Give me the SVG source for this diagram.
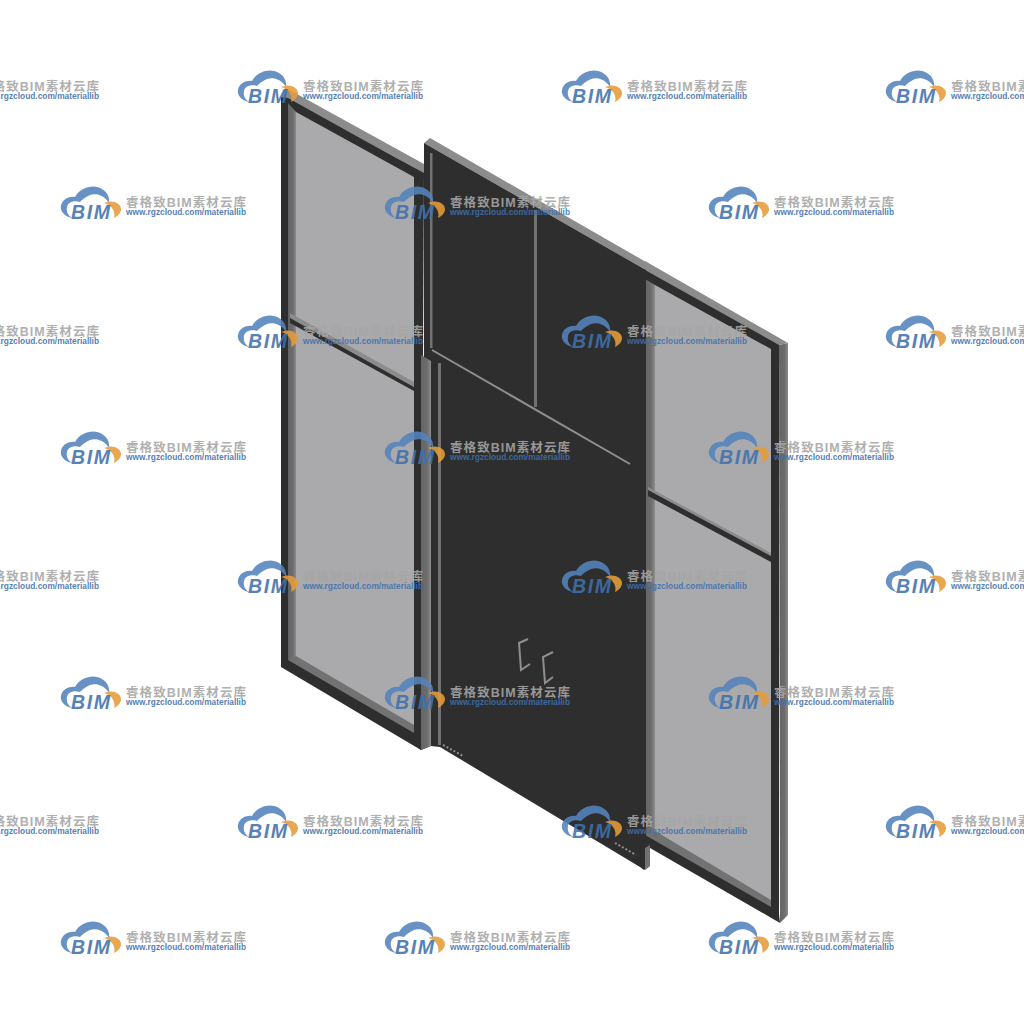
<svg xmlns="http://www.w3.org/2000/svg" width="1024" height="1024" viewBox="0 0 1024 1024">
<style>
.dk{fill:#2e2e2e}.gl{fill:#aaaaac}.md{fill:#727272}.lt{fill:#8c8c8c}
.ln{fill:none;stroke:#8f8f8f;stroke-width:2}
.wm{opacity:.88}
.cl{fill:#5484bd}.or{fill:#e69c3a}
.b{font:italic bold 19.5px "Liberation Sans",sans-serif;fill:#3f71ad}
.t{font:bold 12.5px "Liberation Sans","Noto Sans CJK SC",sans-serif;fill:#a6a6a6}
.u{font:bold 8.5px "Liberation Sans",sans-serif;fill:#3f71ad}
</style>
<defs>
<linearGradient id="side"><stop offset="0" stop-color="#656565"/><stop offset=".6" stop-color="#6c6c6c"/><stop offset="1" stop-color="#8c8c8c"/></linearGradient>
<path id="cloud" d="M11 32C2 30-1 24 0 20C1 13 9 10 14 11C18 3 29-1 36 1C44 3 49 9 48 17C43 9 35 7 29 9C24 11 21 14 19 16C13 14 7 16 6 21C5 26 7 29 11 32Z"/>
<path id="sw" d="M43 17C51 13 60 17 60 23C60 27 57 30 53 32C55 26 51 19 43 17Z"/>
</defs>
<g id="left-panel">
<polygon class="dk" points="281,97 424,172 421,750 281,667"/>
<polygon class="lt" points="281,97 286,88 424,164 424,173"/>
<polygon class="dk" points="281,97 288,98 421,172 421,183 288,108"/>
<polygon fill="url(#side)" points="288,103 296,112 296,659 288,660"/>
<polygon class="gl" points="296,112 414,177 414,726 296,659"/>
<polygon class="md" points="288,660 296,656 414,725 414,733"/>
<polygon class="lt" points="290,313 414,382 414,387 290,318"/>
<polygon class="dk" points="290,318 414,387 414,391 290,323"/>
</g>
<g id="right-panel">
<polygon class="dk" points="645,262 779,343 779,920 645,842"/>
<polygon class="lt" points="645,261 788,343 779,345 645,270"/>
<polygon fill="url(#side)" points="645,279 655,285 655,835 645,835"/>
<polygon class="gl" points="655,285 771,349 771,902 655,835"/>
<polygon class="md" points="645,835 655,831 771,900 771,907"/>
<polygon class="dk" points="650,848 780,923 779,914 650,840"/>
<polygon fill="url(#side)" points="779,345 788,343 788,915 780,923"/>
<polygon class="lt" points="648,487 771,553 771,556 648,490"/>
<polygon class="dk" points="648,490 771,556 771,562 648,496"/>
</g>
<g id="door">
<polygon class="lt" points="424,143 430,138 646,262 646,270"/>
<polygon class="dk" points="424,143 646,270 646,840 650,845 650,866 644,870 640,867 440,747 431,746 421,750 415,745 415,400 424,355"/>
<polygon class="md" points="645,848 650,845 650,866 645,870"/>
<rect class="md" x="430" y="153" width="2.5" height="195"/>
<rect class="md" x="534" y="210" width="3" height="197"/>
<polygon fill="url(#side)" points="421,355 431,361 431,746 421,750"/>
<rect class="md" x="438" y="363" width="3" height="382"/>
<line class="ln" x1="432" y1="350" x2="630" y2="464"/>
<polyline class="ln" points="528,639 519,643 521,670 530,664"/>
<polyline class="ln" points="553,652 543,657 545,683 553,677"/>
<line x1="443" y1="745" x2="463" y2="756" stroke="#8f8f8f" stroke-width="2" stroke-dasharray="2 2"/>
<line x1="615" y1="843" x2="636" y2="855" stroke="#8f8f8f" stroke-width="2" stroke-dasharray="2 2"/>
</g>
<g id="wm-a1" class="wm" transform="translate(-86 70)"><use href="#cloud" class="cl"/><use href="#sw" class="or"/><text class="b" x="10" y="33" textLength="39">BIM</text><text class="t" x="65" y="21" textLength="120">睿格致BIM素材云库</text><text class="u" x="65" y="29" textLength="120" lengthAdjust="spacingAndGlyphs">www.rgzcloud.com/materiallib</text></g>
<g id="wm-a2" class="wm" transform="translate(238 70)"><use href="#cloud" class="cl"/><use href="#sw" class="or"/><text class="b" x="10" y="33" textLength="39">BIM</text><text class="t" x="65" y="21" textLength="120">睿格致BIM素材云库</text><text class="u" x="65" y="29" textLength="120" lengthAdjust="spacingAndGlyphs">www.rgzcloud.com/materiallib</text></g>
<g id="wm-a3" class="wm" transform="translate(562 70)"><use href="#cloud" class="cl"/><use href="#sw" class="or"/><text class="b" x="10" y="33" textLength="39">BIM</text><text class="t" x="65" y="21" textLength="120">睿格致BIM素材云库</text><text class="u" x="65" y="29" textLength="120" lengthAdjust="spacingAndGlyphs">www.rgzcloud.com/materiallib</text></g>
<g id="wm-a4" class="wm" transform="translate(886 70)"><use href="#cloud" class="cl"/><use href="#sw" class="or"/><text class="b" x="10" y="33" textLength="39">BIM</text><text class="t" x="65" y="21" textLength="120">睿格致BIM素材云库</text><text class="u" x="65" y="29" textLength="120" lengthAdjust="spacingAndGlyphs">www.rgzcloud.com/materiallib</text></g>
<g id="wm-b1" class="wm" transform="translate(61 186)"><use href="#cloud" class="cl"/><use href="#sw" class="or"/><text class="b" x="10" y="33" textLength="39">BIM</text><text class="t" x="65" y="21" textLength="120">睿格致BIM素材云库</text><text class="u" x="65" y="29" textLength="120" lengthAdjust="spacingAndGlyphs">www.rgzcloud.com/materiallib</text></g>
<g id="wm-b2" class="wm" transform="translate(385 186)"><use href="#cloud" class="cl"/><use href="#sw" class="or"/><text class="b" x="10" y="33" textLength="39">BIM</text><text class="t" x="65" y="21" textLength="120">睿格致BIM素材云库</text><text class="u" x="65" y="29" textLength="120" lengthAdjust="spacingAndGlyphs">www.rgzcloud.com/materiallib</text></g>
<g id="wm-b3" class="wm" transform="translate(709 186)"><use href="#cloud" class="cl"/><use href="#sw" class="or"/><text class="b" x="10" y="33" textLength="39">BIM</text><text class="t" x="65" y="21" textLength="120">睿格致BIM素材云库</text><text class="u" x="65" y="29" textLength="120" lengthAdjust="spacingAndGlyphs">www.rgzcloud.com/materiallib</text></g>
<g id="wm-c1" class="wm" transform="translate(-86 315)"><use href="#cloud" class="cl"/><use href="#sw" class="or"/><text class="b" x="10" y="33" textLength="39">BIM</text><text class="t" x="65" y="21" textLength="120">睿格致BIM素材云库</text><text class="u" x="65" y="29" textLength="120" lengthAdjust="spacingAndGlyphs">www.rgzcloud.com/materiallib</text></g>
<g id="wm-c2" class="wm" transform="translate(238 315)"><use href="#cloud" class="cl"/><use href="#sw" class="or"/><text class="b" x="10" y="33" textLength="39">BIM</text><text class="t" x="65" y="21" textLength="120">睿格致BIM素材云库</text><text class="u" x="65" y="29" textLength="120" lengthAdjust="spacingAndGlyphs">www.rgzcloud.com/materiallib</text></g>
<g id="wm-c3" class="wm" transform="translate(562 315)"><use href="#cloud" class="cl"/><use href="#sw" class="or"/><text class="b" x="10" y="33" textLength="39">BIM</text><text class="t" x="65" y="21" textLength="120">睿格致BIM素材云库</text><text class="u" x="65" y="29" textLength="120" lengthAdjust="spacingAndGlyphs">www.rgzcloud.com/materiallib</text></g>
<g id="wm-c4" class="wm" transform="translate(886 315)"><use href="#cloud" class="cl"/><use href="#sw" class="or"/><text class="b" x="10" y="33" textLength="39">BIM</text><text class="t" x="65" y="21" textLength="120">睿格致BIM素材云库</text><text class="u" x="65" y="29" textLength="120" lengthAdjust="spacingAndGlyphs">www.rgzcloud.com/materiallib</text></g>
<g id="wm-d1" class="wm" transform="translate(61 431)"><use href="#cloud" class="cl"/><use href="#sw" class="or"/><text class="b" x="10" y="33" textLength="39">BIM</text><text class="t" x="65" y="21" textLength="120">睿格致BIM素材云库</text><text class="u" x="65" y="29" textLength="120" lengthAdjust="spacingAndGlyphs">www.rgzcloud.com/materiallib</text></g>
<g id="wm-d2" class="wm" transform="translate(385 431)"><use href="#cloud" class="cl"/><use href="#sw" class="or"/><text class="b" x="10" y="33" textLength="39">BIM</text><text class="t" x="65" y="21" textLength="120">睿格致BIM素材云库</text><text class="u" x="65" y="29" textLength="120" lengthAdjust="spacingAndGlyphs">www.rgzcloud.com/materiallib</text></g>
<g id="wm-d3" class="wm" transform="translate(709 431)"><use href="#cloud" class="cl"/><use href="#sw" class="or"/><text class="b" x="10" y="33" textLength="39">BIM</text><text class="t" x="65" y="21" textLength="120">睿格致BIM素材云库</text><text class="u" x="65" y="29" textLength="120" lengthAdjust="spacingAndGlyphs">www.rgzcloud.com/materiallib</text></g>
<g id="wm-e1" class="wm" transform="translate(-86 560)"><use href="#cloud" class="cl"/><use href="#sw" class="or"/><text class="b" x="10" y="33" textLength="39">BIM</text><text class="t" x="65" y="21" textLength="120">睿格致BIM素材云库</text><text class="u" x="65" y="29" textLength="120" lengthAdjust="spacingAndGlyphs">www.rgzcloud.com/materiallib</text></g>
<g id="wm-e2" class="wm" transform="translate(238 560)"><use href="#cloud" class="cl"/><use href="#sw" class="or"/><text class="b" x="10" y="33" textLength="39">BIM</text><text class="t" x="65" y="21" textLength="120">睿格致BIM素材云库</text><text class="u" x="65" y="29" textLength="120" lengthAdjust="spacingAndGlyphs">www.rgzcloud.com/materiallib</text></g>
<g id="wm-e3" class="wm" transform="translate(562 560)"><use href="#cloud" class="cl"/><use href="#sw" class="or"/><text class="b" x="10" y="33" textLength="39">BIM</text><text class="t" x="65" y="21" textLength="120">睿格致BIM素材云库</text><text class="u" x="65" y="29" textLength="120" lengthAdjust="spacingAndGlyphs">www.rgzcloud.com/materiallib</text></g>
<g id="wm-e4" class="wm" transform="translate(886 560)"><use href="#cloud" class="cl"/><use href="#sw" class="or"/><text class="b" x="10" y="33" textLength="39">BIM</text><text class="t" x="65" y="21" textLength="120">睿格致BIM素材云库</text><text class="u" x="65" y="29" textLength="120" lengthAdjust="spacingAndGlyphs">www.rgzcloud.com/materiallib</text></g>
<g id="wm-f1" class="wm" transform="translate(61 676)"><use href="#cloud" class="cl"/><use href="#sw" class="or"/><text class="b" x="10" y="33" textLength="39">BIM</text><text class="t" x="65" y="21" textLength="120">睿格致BIM素材云库</text><text class="u" x="65" y="29" textLength="120" lengthAdjust="spacingAndGlyphs">www.rgzcloud.com/materiallib</text></g>
<g id="wm-f2" class="wm" transform="translate(385 676)"><use href="#cloud" class="cl"/><use href="#sw" class="or"/><text class="b" x="10" y="33" textLength="39">BIM</text><text class="t" x="65" y="21" textLength="120">睿格致BIM素材云库</text><text class="u" x="65" y="29" textLength="120" lengthAdjust="spacingAndGlyphs">www.rgzcloud.com/materiallib</text></g>
<g id="wm-f3" class="wm" transform="translate(709 676)"><use href="#cloud" class="cl"/><use href="#sw" class="or"/><text class="b" x="10" y="33" textLength="39">BIM</text><text class="t" x="65" y="21" textLength="120">睿格致BIM素材云库</text><text class="u" x="65" y="29" textLength="120" lengthAdjust="spacingAndGlyphs">www.rgzcloud.com/materiallib</text></g>
<g id="wm-g1" class="wm" transform="translate(-86 805)"><use href="#cloud" class="cl"/><use href="#sw" class="or"/><text class="b" x="10" y="33" textLength="39">BIM</text><text class="t" x="65" y="21" textLength="120">睿格致BIM素材云库</text><text class="u" x="65" y="29" textLength="120" lengthAdjust="spacingAndGlyphs">www.rgzcloud.com/materiallib</text></g>
<g id="wm-g2" class="wm" transform="translate(238 805)"><use href="#cloud" class="cl"/><use href="#sw" class="or"/><text class="b" x="10" y="33" textLength="39">BIM</text><text class="t" x="65" y="21" textLength="120">睿格致BIM素材云库</text><text class="u" x="65" y="29" textLength="120" lengthAdjust="spacingAndGlyphs">www.rgzcloud.com/materiallib</text></g>
<g id="wm-g3" class="wm" transform="translate(562 805)"><use href="#cloud" class="cl"/><use href="#sw" class="or"/><text class="b" x="10" y="33" textLength="39">BIM</text><text class="t" x="65" y="21" textLength="120">睿格致BIM素材云库</text><text class="u" x="65" y="29" textLength="120" lengthAdjust="spacingAndGlyphs">www.rgzcloud.com/materiallib</text></g>
<g id="wm-g4" class="wm" transform="translate(886 805)"><use href="#cloud" class="cl"/><use href="#sw" class="or"/><text class="b" x="10" y="33" textLength="39">BIM</text><text class="t" x="65" y="21" textLength="120">睿格致BIM素材云库</text><text class="u" x="65" y="29" textLength="120" lengthAdjust="spacingAndGlyphs">www.rgzcloud.com/materiallib</text></g>
<g id="wm-h1" class="wm" transform="translate(61 921)"><use href="#cloud" class="cl"/><use href="#sw" class="or"/><text class="b" x="10" y="33" textLength="39">BIM</text><text class="t" x="65" y="21" textLength="120">睿格致BIM素材云库</text><text class="u" x="65" y="29" textLength="120" lengthAdjust="spacingAndGlyphs">www.rgzcloud.com/materiallib</text></g>
<g id="wm-h2" class="wm" transform="translate(385 921)"><use href="#cloud" class="cl"/><use href="#sw" class="or"/><text class="b" x="10" y="33" textLength="39">BIM</text><text class="t" x="65" y="21" textLength="120">睿格致BIM素材云库</text><text class="u" x="65" y="29" textLength="120" lengthAdjust="spacingAndGlyphs">www.rgzcloud.com/materiallib</text></g>
<g id="wm-h3" class="wm" transform="translate(709 921)"><use href="#cloud" class="cl"/><use href="#sw" class="or"/><text class="b" x="10" y="33" textLength="39">BIM</text><text class="t" x="65" y="21" textLength="120">睿格致BIM素材云库</text><text class="u" x="65" y="29" textLength="120" lengthAdjust="spacingAndGlyphs">www.rgzcloud.com/materiallib</text></g>
</svg>
